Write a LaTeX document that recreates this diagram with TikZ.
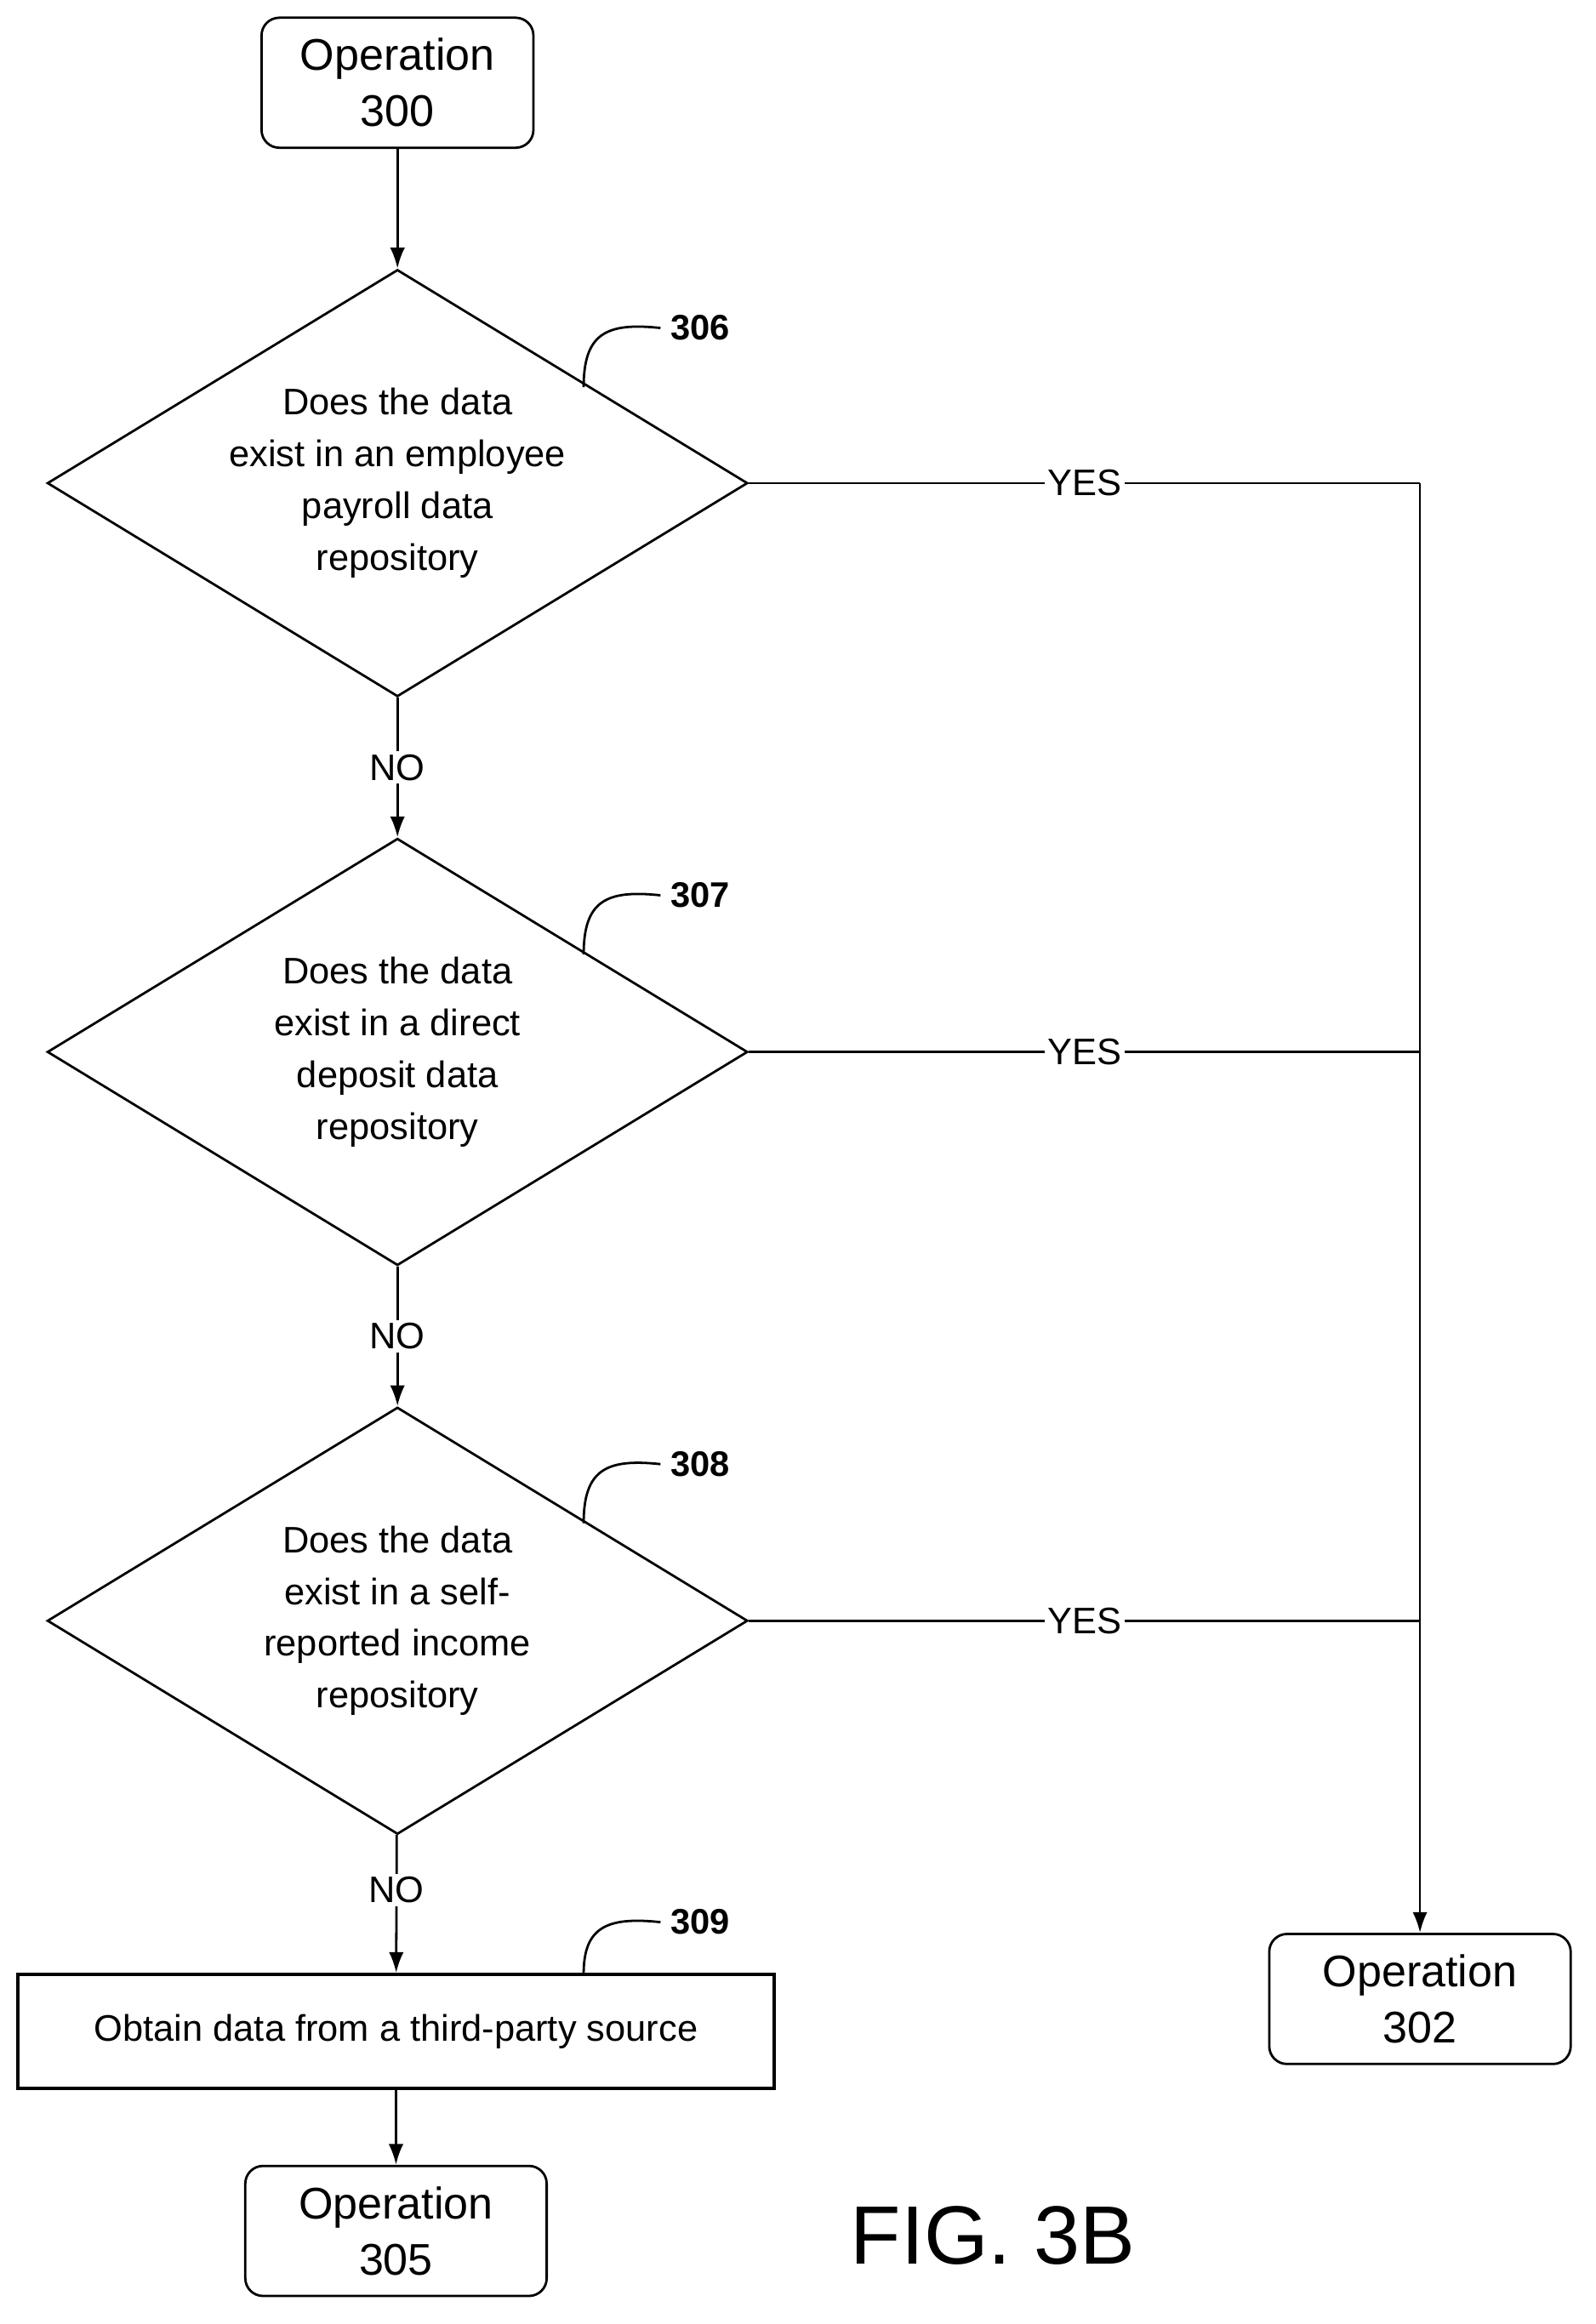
\documentclass[tikz,border=0pt]{standalone}
\usepackage{fontspec}
\setmainfont{Liberation Sans}
\usetikzlibrary{shapes.geometric,arrows.meta}
\begin{document}
\begin{tikzpicture}[x=0.5pt,y=-0.5pt,
 op/.style={draw,rounded corners=6pt,line width=0.8pt,minimum width=92pt,minimum height=44pt,align=center,font=\fontsize{15}{19}\selectfont,inner sep=0pt},
 dec/.style={draw,diamond,line width=0.8pt,aspect=1.64,minimum width=237pt,minimum height=144.5pt,inner sep=0pt,align=center,font=\fontsize{12.5}{17.5}\selectfont},
 lab/.style={font=\bfseries\fontsize{12}{14}\selectfont},
 yn/.style={font=\fontsize{12.5}{14}\selectfont,fill=white,inner sep=1pt},
 ar/.style={-{Latex[length=7pt,width=5pt]},line width=0.8pt},
 ln/.style={line width=0.8pt}]
\useasboundingbox (0,0) rectangle (1080,1573);
\node[op] (o300) at (269,56) {Operation\\300};
\node[dec] (d306) at (269,327) {Does the data\\exist in an employee\\payroll data\\repository};
\node[dec] (d307) at (269,712) {Does the data\\exist in a direct\\deposit data\\repository};
\node[dec] (d308) at (269,1097) {Does the data\\exist in a self-\\reported income\\repository};
\node[draw,line width=1.2pt,minimum width=256pt,minimum height=38.5pt,inner sep=0pt,font=\fontsize{12.5}{15}\selectfont] (b309) at (268,1375) {Obtain data from a third-party source};
\node[op,minimum width=102pt] (o305) at (268,1510) {Operation\\305};
\node[op,minimum width=102pt] (o302) at (961,1353) {Operation\\302};
\node[font=\fontsize{28}{30}\selectfont] (fig) at (672,1513) {FIG. 3B};
\draw[ar] (o300) -- (d306);
\draw[ar] (d306) -- node[yn]{NO} (d307);
\draw[ar] (d307) -- node[yn]{NO} (d308);
\draw[ar] (d308) -- node[yn,pos=0.4]{NO} (b309);
\draw[ar] (b309) -- (o305);
\coordinate (j1) at (961,327);
\coordinate (j2) at (961,712);
\coordinate (j3) at (961,1097);
\draw[ln] (d306.east) -- node[yn,pos=0.5]{YES} (j1);
\draw[ln] (d307.east) -- node[yn,pos=0.5]{YES} (j2);
\draw[ln] (d308.east) -- node[yn,pos=0.5]{YES} (j3);
\draw[ar] (j1) -- (o302);
\foreach \n/\y in {306/218,307/602,308/987}{
 \node[lab,anchor=west] (l\n) at (447,\y+4) {\n};
 \draw[ln] (395,\y+44) .. controls (395,\y+8) and (410,\y) .. (l\n.west);
}
\node[lab,anchor=west] (l309) at (447,1301) {309};
\draw[ln] (395,1336) .. controls (395,1305) and (410,1297) .. (l309.west);
\end{tikzpicture}
\end{document}
